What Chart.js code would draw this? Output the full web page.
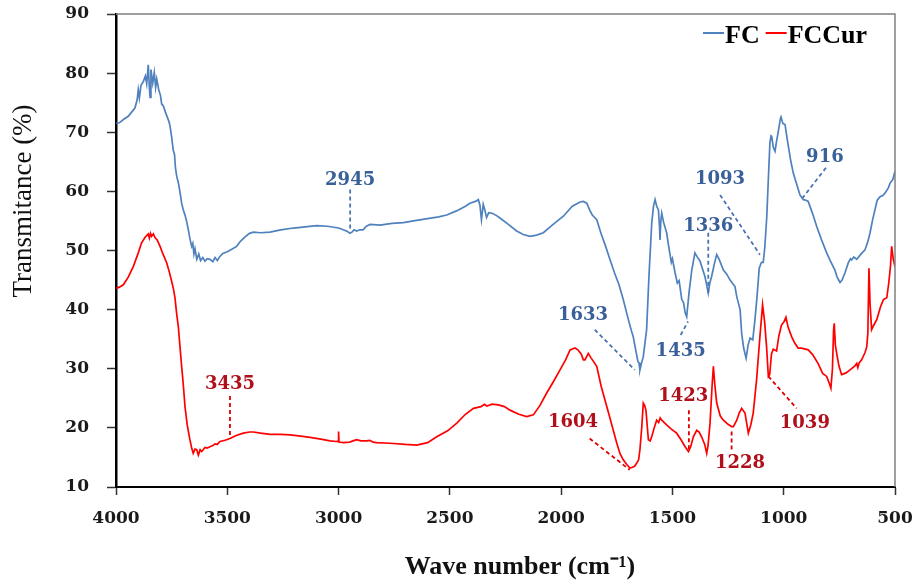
<!DOCTYPE html>
<html>
<head>
<meta charset="utf-8">
<title>FTIR FC / FCCur</title>
<script src="https://cdn.jsdelivr.net/npm/chart.js@4.4.1/dist/chart.umd.min.js"></script>
<style>
  html, body { margin: 0; padding: 0; background: #fff; }
  #wrap { width: 917px; height: 580px; }
</style>
</head>
<body>
<div id="wrap"><canvas id="ftir" width="917" height="580"></canvas></div>
<script>
// === Data ===
const seriesNames = ['FC', 'FCCur'];

const fcWave = [3999, 3985, 3965, 3945, 3930, 3915, 3905, 3900, 3895, 3888, 3877, 3868, 3862, 3855, 3850, 3847, 3843, 3835, 3828, 3822, 3817, 3808, 3800, 3795, 3787, 3778, 3770, 3762, 3757, 3750, 3743, 3737, 3733, 3727, 3720, 3713, 3705, 3698, 3690, 3683, 3675, 3668, 3660, 3655, 3650, 3645, 3637, 3628, 3620, 3610, 3600, 3590, 3578, 3565, 3555, 3545, 3533, 3520, 3500, 3480, 3458, 3440, 3420, 3400, 3383, 3350, 3308, 3260, 3203, 3150, 3098, 3050, 3000, 2979, 2960, 2949, 2940, 2930, 2919, 2905, 2890, 2875, 2858, 2814, 2760, 2709, 2650, 2600, 2550, 2514, 2470, 2430, 2410, 2385, 2372, 2365, 2358, 2350, 2343, 2335, 2325, 2310, 2290, 2275, 2240, 2200, 2170, 2140, 2110, 2080, 2040, 1990, 1950, 1915, 1900, 1885, 1870, 1860, 1840, 1820, 1800, 1780, 1760, 1740, 1721, 1700, 1685, 1676, 1665, 1655, 1650, 1646, 1640, 1631, 1616, 1605, 1593, 1585, 1578, 1570, 1563, 1558, 1556, 1552, 1548, 1540, 1526, 1518, 1505, 1500, 1488, 1478, 1470, 1458, 1450, 1443, 1436, 1425, 1413, 1399, 1390, 1376, 1354, 1345, 1339, 1332, 1324, 1310, 1301, 1290, 1271, 1256, 1241, 1219, 1211, 1196, 1189, 1180, 1169, 1160, 1151, 1139, 1130, 1121, 1110, 1100, 1092, 1085, 1076, 1068, 1062, 1057, 1054, 1047, 1039, 1032, 1024, 1015, 1012, 1004, 994, 985, 979, 970, 957, 940, 927, 912, 900, 890, 870, 852, 830, 807, 790, 770, 760, 747, 738, 725, 710, 700, 695, 685, 672, 655, 635, 622, 612, 600, 590, 580, 567, 555, 545, 530, 522, 510, 500];
const fcTrans = [71.5, 71.6, 72.2, 72.7, 73.4, 74.1, 75.5, 77.2, 75.8, 77.9, 78.6, 79.5, 78.2, 81.4, 77.5, 75.9, 80.6, 78.3, 80.1, 77.6, 79.0, 77.2, 76.2, 74.8, 74.4, 73.4, 72.6, 71.8, 71.0, 69.2, 67.0, 66.2, 64.0, 62.5, 61.5, 60.0, 58.0, 56.9, 56.0, 55.0, 53.5, 52.0, 50.7, 51.2, 49.4, 50.3, 48.5, 49.4, 48.3, 48.8, 48.2, 48.6, 48.5, 48.1, 48.8, 48.3, 49.0, 49.5, 49.8, 50.2, 50.7, 51.6, 52.3, 52.9, 53.1, 53.0, 53.1, 53.5, 53.8, 54.0, 54.2, 54.1, 53.8, 53.5, 53.2, 52.9, 53.1, 53.5, 53.3, 53.5, 53.5, 54.1, 54.4, 54.3, 54.6, 54.7, 55.1, 55.4, 55.7, 56.0, 56.7, 57.5, 58.0, 58.3, 58.6, 57.7, 55.2, 57.8, 56.9, 55.6, 56.4, 56.3, 55.9, 55.5, 54.5, 53.3, 52.7, 52.4, 52.6, 53.0, 54.3, 55.8, 57.5, 58.2, 58.3, 58.0, 56.7, 56.0, 55.2, 52.8, 50.7, 48.4, 46.2, 44.2, 41.7, 38.6, 36.5, 35.4, 33.2, 31.2, 31.0, 29.8, 30.8, 32.0, 36.6, 46.0, 54.6, 57.5, 58.6, 57.4, 56.9, 54.0, 51.8, 55.0, 56.3, 54.8, 53.0, 51.0, 48.0, 48.6, 46.2, 44.5, 44.9, 41.7, 41.2, 39.5, 38.8, 43.0, 46.7, 49.6, 49.0, 48.2, 45.6, 44.0, 42.8, 44.5, 45.6, 48.0, 49.3, 48.5, 46.7, 46.0, 45.0, 43.9, 42.2, 40.0, 36.0, 33.5, 31.8, 34.0, 35.2, 34.9, 38.0, 41.7, 47.0, 48.0, 48.0, 50.5, 55.8, 63.0, 68.2, 69.4, 69.3, 67.5, 66.8, 68.5, 70.2, 72.3, 72.6, 71.5, 71.3, 69.0, 67.6, 65.5, 63.1, 61.0, 59.4, 58.6, 58.5, 58.3, 56.2, 54.1, 51.8, 49.6, 48.2, 46.7, 45.5, 44.6, 45.0, 46.2, 47.9, 48.6, 48.4, 48.9, 48.5, 49.3, 50.1, 51.5, 53.0, 55.3, 56.9, 58.5, 59.1, 59.3, 59.7, 60.6, 61.4, 62.0, 63.4];

const curWave = [3999, 3985, 3967, 3945, 3922, 3900, 3885, 3870, 3860, 3855, 3850, 3845, 3840, 3832, 3825, 3815, 3802, 3790, 3772, 3760, 3750, 3742, 3735, 3728, 3720, 3712, 3705, 3697, 3690, 3680, 3668, 3660, 3653, 3645, 3637, 3630, 3622, 3615, 3608, 3600, 3590, 3578, 3565, 3555, 3545, 3533, 3510, 3488, 3460, 3428, 3400, 3383, 3350, 3308, 3260, 3218, 3170, 3128, 3080, 3038, 3010, 3002, 3000, 2998, 2979, 2950, 2935, 2919, 2900, 2874, 2860, 2845, 2829, 2769, 2700, 2649, 2600, 2559, 2510, 2469, 2430, 2394, 2360, 2345, 2334, 2310, 2282, 2255, 2230, 2190, 2155, 2125, 2095, 2065, 2035, 2005, 1980, 1960, 1938, 1925, 1910, 1900, 1893, 1878, 1865, 1840, 1820, 1795, 1770, 1750, 1735, 1721, 1705, 1691, 1683, 1670, 1661, 1652, 1646, 1638, 1631, 1625, 1619, 1608, 1600, 1593, 1582, 1571, 1562, 1555, 1548, 1540, 1526, 1505, 1481, 1460, 1443, 1428, 1418, 1406, 1391, 1380, 1369, 1355, 1346, 1340, 1331, 1322, 1316, 1310, 1301, 1285, 1271, 1250, 1234, 1226, 1211, 1200, 1189, 1174, 1165, 1159, 1148, 1137, 1122, 1107, 1095, 1086, 1077, 1069, 1063, 1055, 1047, 1032, 1022, 1010, 998, 990, 980, 964, 950, 935, 920, 890, 870, 846, 825, 807, 795, 788, 781, 776, 773, 768, 762, 752, 740, 720, 702, 680, 672, 667, 661, 650, 635, 627, 622, 617, 612, 605, 595, 582, 565, 552, 537, 528, 520, 515, 508, 500];
const curTrans = [43.6, 43.8, 44.2, 45.5, 47.3, 49.6, 51.3, 52.2, 52.6, 52.8, 52.1, 52.9, 52.4, 52.8, 52.2, 51.8, 50.7, 49.5, 47.9, 46.3, 44.8, 43.5, 42.0, 39.5, 37.1, 33.5, 30.4, 27.0, 23.6, 20.5, 18.0, 16.6, 15.7, 16.4, 16.3, 15.4, 16.3, 16.0, 16.3, 16.7, 16.6, 16.8, 17.0, 17.3, 17.2, 17.7, 17.9, 18.2, 18.7, 19.1, 19.3, 19.3, 19.1, 18.9, 18.9, 18.8, 18.6, 18.4, 18.1, 17.8, 17.7, 17.7, 19.4, 17.6, 17.5, 17.6, 17.8, 18.0, 17.8, 17.8, 17.9, 17.6, 17.5, 17.4, 17.2, 17.1, 17.5, 18.5, 19.5, 20.8, 22.3, 23.3, 23.6, 24.0, 23.7, 24.0, 23.9, 23.6, 23.0, 22.3, 21.9, 22.2, 23.8, 25.9, 27.8, 29.8, 31.5, 33.2, 33.5, 33.2, 32.5, 31.5, 31.5, 32.6, 31.8, 30.4, 27.0, 23.6, 20.2, 17.4, 15.6, 14.6, 13.8, 13.2, 13.3, 13.5, 14.0, 14.6, 16.3, 20.0, 24.2, 23.8, 23.0, 18.0, 17.8, 18.5, 20.0, 21.3, 20.9, 21.7, 21.3, 21.0, 20.5, 19.8, 19.1, 17.9, 16.8, 16.0, 16.8, 18.5, 19.6, 19.3, 18.5, 17.2, 15.7, 17.0, 20.8, 27.0, 30.4, 27.5, 24.2, 22.0, 21.3, 20.6, 20.2, 20.2, 21.3, 22.5, 23.3, 22.5, 20.5, 19.1, 20.5, 22.5, 28.1, 35.4, 40.8, 38.0, 33.7, 28.7, 29.0, 32.5, 33.3, 33.0, 35.5, 37.4, 38.0, 38.7, 37.0, 35.4, 34.3, 33.5, 33.5, 33.2, 32.4, 30.9, 29.2, 28.7, 27.5, 26.7, 30.0, 36.5, 37.7, 34.0, 32.6, 30.5, 29.0, 29.3, 29.8, 30.5, 30.9, 30.2, 31.0, 31.5, 32.7, 33.7, 36.0, 47.0, 41.0, 36.6, 37.4, 38.3, 40.5, 41.7, 42.0, 44.5, 47.5, 50.7, 48.6, 47.3];

// axis ranges / ticks
const xMin = 500, xMax = 4000, xStep = 500;
const yMin = 10, yMax = 90, yStep = 10;

// peak labels: text, series, label centre (wave, T), pointer from -> to (wave, T)
const peaks = [
  { text: '2945', s: 0, at: [2948, 61.8], from: [2948, 60.3], to: [2948, 53.2] },
  { text: '1633', s: 0, at: [1902, 39.1], from: [1849, 36.6], to: [1669, 29.8] },
  { text: '1435', s: 0, at: [1463, 32.9], from: [1463, 35.7], to: [1430, 38.0] },
  { text: '1336', s: 0, at: [1339, 54.1], from: [1339, 53.0], to: [1339, 42.8] },
  { text: '1093', s: 0, at: [1286, 62.0], from: [1286, 59.4], to: [1107, 49.3] },
  { text: '916',  s: 0, at: [815, 65.8],  from: [810, 64.0],   to: [915, 58.9] },
  { text: '3435', s: 1, at: [3488, 27.4], from: [3488, 25.4], to: [3488, 18.1] },
  { text: '1604', s: 1, at: [1947, 20.9], from: [1872, 18.2], to: [1692, 12.9] },
  { text: '1423', s: 1, at: [1451, 25.3], from: [1426, 23.0], to: [1426, 16.0] },
  { text: '1228', s: 1, at: [1196, 14.0], from: [1234, 19.4], to: [1234, 16.0] },
  { text: '1039', s: 1, at: [905, 20.7],  from: [1069, 28.7], to: [942, 23.3] }
];

// === Styles ===
const lineColors = ['#4F81BD', '#FF0000'];
const labelColors = ['#3A6099', '#B0101A'];
const dashColors = ['#4A74B0', '#E00000'];
const numFont = 'bold 18px "DejaVu Serif", serif';

const toPoints = (xs, ys) => xs.map((x, i) => ({ x: x, y: ys[i] }));

// === Extras: frame, legend, axis titles, peak labels ===
const extras = {
  id: 'extras',
  afterDatasetsDraw(chart) {
    const { ctx, chartArea: a, scales: { x, y } } = chart;
    ctx.save();

    // top + right frame (grey)
    ctx.strokeStyle = '#808080';
    ctx.lineWidth = 1.5;
    ctx.beginPath();
    ctx.moveTo(a.left, a.top);
    ctx.lineTo(a.right, a.top);
    ctx.lineTo(a.right, a.bottom);
    ctx.stroke();

    // peak labels
    peaks.forEach(p => {
      ctx.setLineDash([4, 3]);
      ctx.strokeStyle = dashColors[p.s];
      ctx.lineWidth = 1.8;
      ctx.beginPath();
      ctx.moveTo(x.getPixelForValue(p.from[0]), y.getPixelForValue(p.from[1]));
      ctx.lineTo(x.getPixelForValue(p.to[0]), y.getPixelForValue(p.to[1]));
      ctx.stroke();
      ctx.setLineDash([]);
      ctx.fillStyle = labelColors[p.s];
      ctx.font = numFont;
      ctx.textAlign = 'center';
      ctx.textBaseline = 'middle';
      ctx.fillText(p.text, x.getPixelForValue(p.at[0]), y.getPixelForValue(p.at[1]));
    });

    // legend (inside, top right)
    ctx.font = 'bold 26px "Liberation Serif", serif';
    ctx.textAlign = 'left';
    ctx.textBaseline = 'alphabetic';
    let lx = a.right - 192;
    const ly = a.top + 29;
    chart.data.datasets.forEach(ds => {
      ctx.strokeStyle = ds.borderColor;
      ctx.lineWidth = 2;
      ctx.beginPath();
      ctx.moveTo(lx, ly - 10);
      ctx.lineTo(lx + 21, ly - 10);
      ctx.stroke();
      ctx.fillStyle = '#000';
      ctx.fillText(ds.label, lx + 22, ly);
      lx += 22 + ctx.measureText(ds.label).width + 6;
    });

    // axis titles
    ctx.fillStyle = '#111';
    ctx.textAlign = 'center';
    ctx.textBaseline = 'middle';
    ctx.font = 'bold 26px "Liberation Serif", serif';
    ctx.fillText('Wave number (cm\u207B\u00B9)', 520, 567);
    ctx.save();
    ctx.translate(24, 201);
    ctx.rotate(-Math.PI / 2);
    ctx.font = '27px "Liberation Serif", serif';
    ctx.fillText('Transmitance (%)', 0, 0);
    ctx.restore();

    ctx.restore();
  }
};

// === Chart ===
const ctxFtir = document.getElementById('ftir').getContext('2d');
const ftirChart = new Chart(ctxFtir, {
  type: 'line',
  data: {
    datasets: [
      { label: seriesNames[0], data: toPoints(fcWave, fcTrans), borderColor: lineColors[0], borderWidth: 1.7, pointRadius: 0, tension: 0 },
      { label: seriesNames[1], data: toPoints(curWave, curTrans), borderColor: lineColors[1], borderWidth: 1.7, pointRadius: 0, tension: 0 }
    ]
  },
  options: {
    responsive: false,
    animation: false,
    devicePixelRatio: 1,
    layout: { padding: { top: 14, right: 22, left: 0, bottom: 0 } },
    plugins: { legend: { display: false }, tooltip: { enabled: false } },
    scales: {
      x: {
        type: 'linear',
        reverse: true,
        min: xMin, max: xMax,
        afterFit: s => { s.height = 93; s.paddingLeft = 0; s.paddingRight = 0; },
        ticks: { stepSize: xStep, autoSkip: false, maxRotation: 0, padding: 13, color: '#1a1a1a',
                 font: { family: '"DejaVu Serif", serif', size: 17, weight: 'bold' },
                 callback: v => String(v) },
        grid: { display: true, drawOnChartArea: false, drawTicks: true, tickLength: 8, tickColor: '#333', tickWidth: 1.5 },
        border: { display: true, color: '#000', width: 2 }
      },
      y: {
        min: yMin, max: yMax,
        afterFit: s => { s.width = 116; s.paddingTop = 0; s.paddingBottom = 0; },
        ticks: { stepSize: yStep, padding: 18, color: '#1a1a1a',
                 font: { family: '"DejaVu Serif", serif', size: 17, weight: 'bold' },
                 callback: v => String(v) },
        grid: { display: true, drawOnChartArea: false, drawTicks: true, tickLength: 9, tickColor: '#333', tickWidth: 1.5 },
        border: { display: true, color: '#000', width: 2.5 }
      }
    }
  },
  plugins: [extras]
});
</script>
</body>
</html>
